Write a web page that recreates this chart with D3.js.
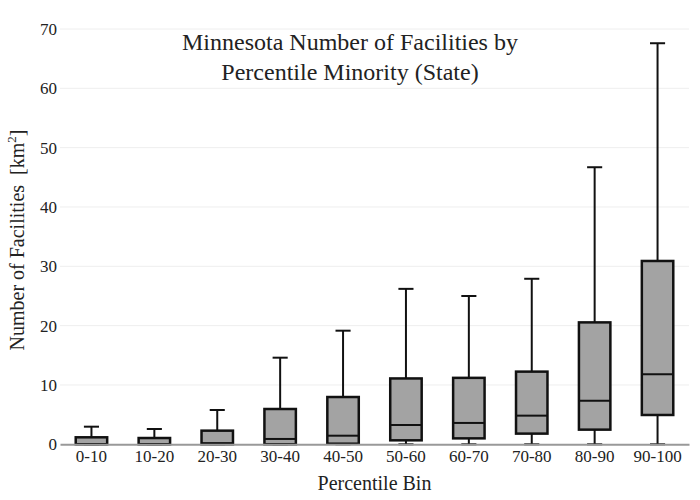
<!DOCTYPE html>
<html>
<head>
<meta charset="utf-8">
<script src="https://cdn.jsdelivr.net/npm/d3@7"></script>
</head>
<body style="margin:0">
<div id="root"></div>
<script>
//DATA
const bins = ["0-10", "10-20", "20-30", "30-40", "40-50", "50-60", "60-70", "70-80", "80-90", "90-100"];
const lowerFence = [0, 0, 0, 0, 0, 0, 0, 0, 0, 0];
const q1 = [0, 0, 0, 0, 0.1, 0.67, 1.0, 1.8, 2.47, 4.94];
const median = [0, 0, 0.2, 0.9, 1.45, 3.25, 3.6, 4.83, 7.35, 11.8];
const q3 = [1.18, 1.06, 2.3, 5.95, 7.97, 11.1, 11.2, 12.25, 20.55, 30.9];
const upperFence = [2.97, 2.58, 5.78, 14.6, 19.15, 26.2, 25.0, 27.9, 46.7, 67.6];
const yTicks = [0, 10, 20, 30, 40, 50, 60, 70];

const FONT = '"Liberation Serif"';

//DIMENSIONS
let width = 700, height = 500;
let margin = {top: 29, right: 11, bottom: 56, left: 60};

let svg = d3.select('#root')
  .append('svg')
  .attr('width', width)
  .attr('height', height);

//SCALES
let x = d3.scaleBand()
  .domain(bins)
  .range([margin.left, width - margin.right]);

let y = d3.scaleLinear()
  .domain([0, 70])
  .range([height - margin.bottom + 0.3, margin.top]);

//GRIDLINES
svg.append('g')
  .selectAll('line')
  .data(yTicks.slice(1))
  .join('line')
  .attr('x1', margin.left)
  .attr('x2', width - margin.right)
  .attr('y1', d => y(d))
  .attr('y2', d => y(d))
  .attr('stroke', '#eeeeee')
  .attr('stroke-width', 1);

//BOXES
const boxData = bins.map((b, i) => ({
  bin: b, lo: lowerFence[i], q1: q1[i], med: median[i], q3: q3[i], hi: upperFence[i]
}));

let boxW = x.bandwidth() * 0.5;
let capW = x.bandwidth() * 0.24;

let g = svg.append('g')
  .selectAll('g')
  .data(boxData)
  .join('g')
  .attr('transform', d => `translate(${x(d.bin) + x.bandwidth() / 2},0)`);

// whiskers
g.append('line')
  .attr('y1', d => y(d.q3)).attr('y2', d => y(d.hi))
  .attr('stroke', '#111').attr('stroke-width', 2);
g.append('line')
  .attr('y1', d => y(d.q1)).attr('y2', d => y(d.lo))
  .attr('stroke', '#111').attr('stroke-width', 2);
g.append('line')
  .attr('x1', -capW / 2).attr('x2', capW / 2)
  .attr('y1', d => y(d.hi)).attr('y2', d => y(d.hi))
  .attr('stroke', '#111').attr('stroke-width', 2);
g.append('line')
  .attr('x1', -capW / 2).attr('x2', capW / 2)
  .attr('y1', d => y(d.lo)).attr('y2', d => y(d.lo))
  .attr('stroke', '#111').attr('stroke-width', 2);

// box
g.append('rect')
  .attr('x', -boxW / 2)
  .attr('width', boxW)
  .attr('y', d => y(d.q3))
  .attr('height', d => y(d.q1) - y(d.q3))
  .attr('fill', '#a3a3a3')
  .attr('stroke', '#111')
  .attr('stroke-width', 2.5);

// median
g.append('line')
  .attr('x1', -boxW / 2).attr('x2', boxW / 2)
  .attr('y1', d => y(d.med)).attr('y2', d => y(d.med))
  .attr('stroke', '#111').attr('stroke-width', 2);

//Y AXIS
let yAxis = svg.append('g')
  .attr('transform', `translate(${margin.left},0)`)
  .call(d3.axisLeft(y).tickValues(yTicks).tickSize(0).tickPadding(3));
yAxis.attr('font-family', null);
yAxis.select('.domain').remove();
yAxis.selectAll('text')
  .attr('font-size', 17)
  .style('font-family', FONT)
  .style('fill', '#222');

//X AXIS
let xAxis = svg.append('g')
  .attr('transform', `translate(0,${y(0)})`)
  .call(d3.axisBottom(x).tickSize(0).tickPadding(6));
xAxis.attr('font-family', null);
xAxis.select('.domain')
  .attr('stroke', '#999')
  .attr('stroke-width', 2);
xAxis.selectAll('text')
  .attr('font-size', 17)
  .style('font-family', FONT)
  .style('fill', '#222');

//TITLE
svg.selectAll('text.title')
  .data(['Minnesota Number of Facilities by', 'Percentile Minority (State)'])
  .join('text')
  .attr('class', 'title')
  .attr('x', 350)
  .attr('y', (d, i) => 50 + i * 30)
  .attr('text-anchor', 'middle')
  .attr('font-size', 24)
  .style('font-family', FONT)
  .style('fill', '#222')
  .text(d => d);

//AXIS TITLES
svg.append('text')
  .attr('x', (margin.left + width - margin.right) / 2)
  .attr('y', 490)
  .attr('text-anchor', 'middle')
  .attr('font-size', 20)
  .style('font-family', FONT)
  .style('fill', '#222')
  .text('Percentile Bin');

let yt = svg.append('text')
  .attr('transform', `translate(24,240) rotate(-90)`)
  .attr('text-anchor', 'middle')
  .attr('font-size', 20)
  .style('font-family', FONT)
  .style('fill', '#222');
yt.append('tspan').text('Number of Facilities\u00a0 [km');
yt.append('tspan').attr('font-size', 13).attr('dy', -8).text('2');
yt.append('tspan').attr('dy', 8).text(']');
</script>
</body>
</html>
